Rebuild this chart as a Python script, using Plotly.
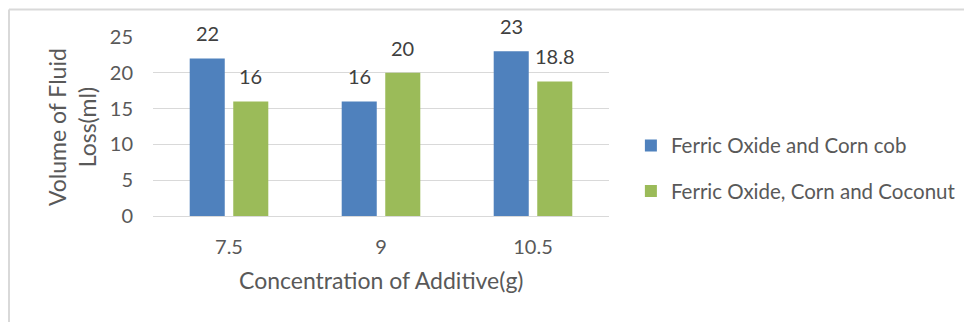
import plotly.graph_objects as go

# Fluid loss measured for each additive concentration
concentrations = ["7.5", "9", "10.5"]
corn_cob = [22, 16, 23]
corn_coconut = [16, 20, 18.8]
series_names = ["Ferric Oxide and Corn cob", "Ferric Oxide, Corn and Coconut"]
y_ticks = [0, 5, 10, 15, 20, 25]

FONT = "Lato"
GREY = "#595959"
BLUE = "#4F81BD"
GREEN = "#9BBB59"

fig = go.Figure()
for i, (name, vals, col) in enumerate(
    [(series_names[0], corn_cob, BLUE), (series_names[1], corn_coconut, GREEN)]
):
    fig.add_trace(go.Bar(
        x=concentrations, y=vals, name=name, marker_color=col,
        marker_line_width=0, legendgroup=f"g{i}",
    ))

# Value labels above each bar (category axis positions are indices)
annotations = []
for vals, shift in [(corn_cob, -21.75), (corn_coconut, 21.75)]:
    for idx, v in enumerate(vals):
        annotations.append(dict(
            x=idx, y=v, xref="x", yref="y", text=f"{v:g}", showarrow=False,
            xshift=shift, yshift=11, xanchor="center", yanchor="bottom",
            font=dict(family=FONT, size=20, color="#404040"),
        ))

# Axis titles
annotations.append(dict(
    x=0.5, y=-0.36, xref="paper", yref="paper",
    xanchor="center", yanchor="middle",
    text="Concentration of Additive(g)", showarrow=False,
    font=dict(family=FONT, size=23, color=GREY),
))
annotations.append(dict(
    x=-0.1776, y=0.497, xref="paper", yref="paper",
    xanchor="center", yanchor="middle", textangle=-90,
    text="Volume of Fluid<br>Loss(ml)", showarrow=False,
    font=dict(family=FONT, size=23, color=GREY),
))

fig.update_layout(
    width=964, height=322,
    margin=dict(l=153, r=355, t=37, b=106, autoexpand=False),
    paper_bgcolor="white", plot_bgcolor="white",
    barmode="group", bargap=0.427, bargroupgap=0.195,
    font=dict(family=FONT, size=20, color=GREY),
    legend=dict(
        x=1.048, xanchor="left", y=0.265, yanchor="middle",
        font=dict(family=FONT, size=20.5, color=GREY),
        tracegroupgap=16, bgcolor="rgba(0,0,0,0)",
    ),
    annotations=annotations,
    shapes=[
        dict(type="line", xref="paper", yref="paper", x0=-0.3158, x1=1.9,
             y0=1.1536, y1=1.1536, line=dict(color="#D9D9D9", width=2)),
        dict(type="line", xref="paper", yref="paper", x0=-0.3158, x1=-0.3158,
             y0=1.1536, y1=-0.7, line=dict(color="#D9D9D9", width=2)),
    ],
)
fig.update_xaxes(
    type="category", range=[-0.5, len(concentrations) - 0.5],
    showgrid=False, showline=False, ticks="", ticklabelstandoff=17,
    tickfont=dict(family=FONT, size=20, color=GREY),
)
fig.update_yaxes(
    range=[0, 25], tickvals=y_ticks, showgrid=True, gridcolor="#D9D9D9",
    gridwidth=1, zeroline=True, zerolinecolor="#D9D9D9", zerolinewidth=1,
    showline=False, ticks="", ticklabelstandoff=19,
    tickfont=dict(family=FONT, size=20, color=GREY),
)

fig.write_html("out.html")
